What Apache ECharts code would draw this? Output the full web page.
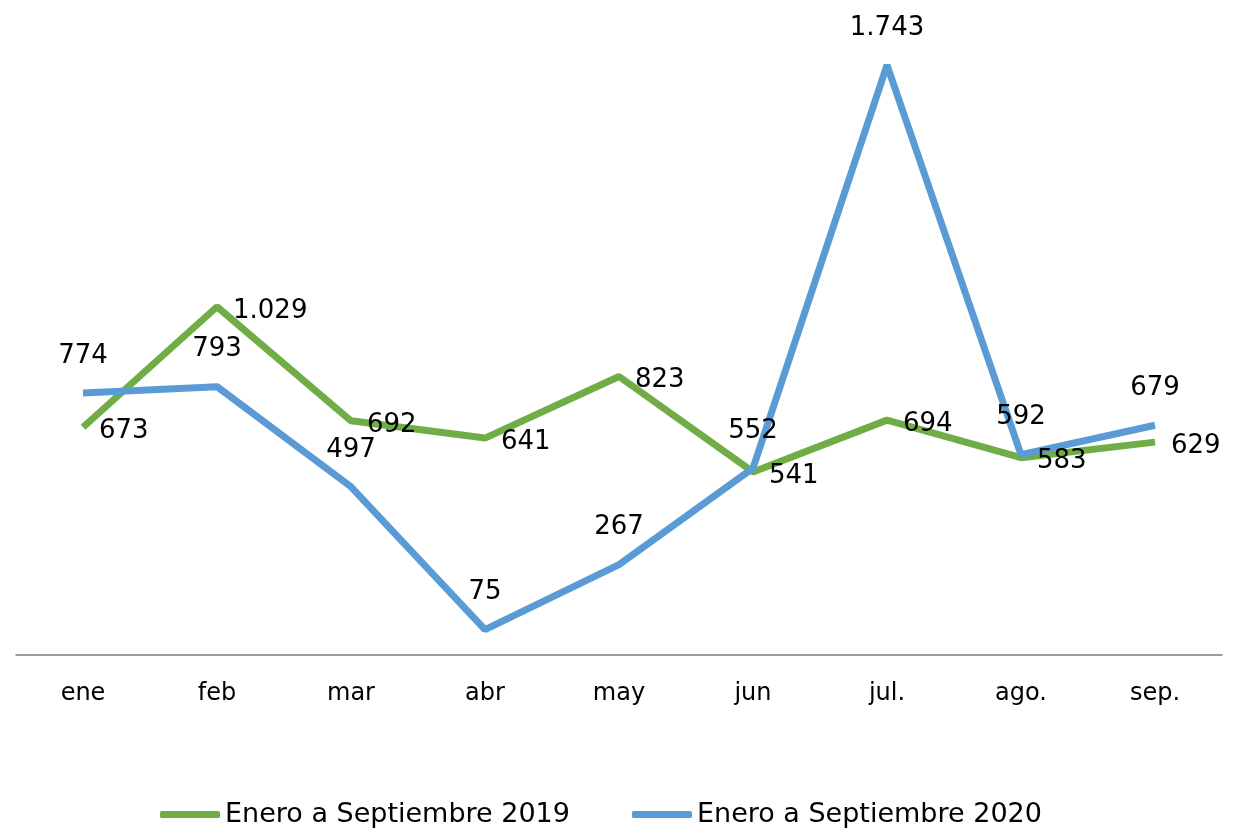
<!DOCTYPE html>
<html>
<head>
<meta charset="utf-8">
<script src="https://cdn.jsdelivr.net/npm/echarts@6/dist/echarts.min.js"></script>
<style>
  html, body { margin: 0; padding: 0; background: #fff; }
  #chart { width: 1233px; height: 833px; }
</style>
</head>
<body>
<div id="chart"></div>
<script>
// datos
let months = ['ene', 'feb', 'mar', 'abr', 'may', 'jun', 'jul.', 'ago.', 'sep.'];
let values2019 = [673, 1029, 692, 641, 823, 541, 694, 583, 629];
let values2020 = [774, 793, 497, 75, 267, 552, 1743, 592, 679];

(function () {
  let myChart = echarts.init(document.getElementById('chart'));

  let font = 'DejaVu Sans';
  // separador de miles con punto
  let fmt = params => {
    return String(params.value).replace(/\B(?=(\d{3})+(?!\d))/g, '.');
  };

  let option = {
    textStyle: { fontFamily: font },
    color: ['#70AD47', '#5B9BD5'],
    animation: false,
    grid: {
      left: 16,
      right: 11,
      top: 12,
      bottom: 178
    },
    legend: {
      bottom: 0,
      left: 155,
      icon: 'roundRect',
      itemWidth: 60,
      itemHeight: 7,
      itemGap: 62,
      textStyle: {
        color: '#000',
        fontSize: 27,
        fontFamily: font
      },
      data: ['Enero a Septiembre 2019', 'Enero a Septiembre 2020']
    },
    xAxis: {
      type: 'category',
      data: months,
      boundaryGap: true,
      axisLine: { lineStyle: { color: '#7f7f7f', width: 1.5 } },
      axisTick: { show: false },
      axisLabel: {
        color: '#000',
        fontSize: 24,
        margin: 27,
        fontFamily: font
      }
    },
    yAxis: {
      type: 'value',
      min: 0,
      max: 1900,
      show: false,
      splitLine: { show: false }
    },
    series: [
      {
        name: 'Enero a Septiembre 2019',
        type: 'line',
        data: values2019,
        symbol: 'circle',
        symbolSize: 0,
        itemStyle: { color: '#70AD47' },
        lineStyle: { width: 7, color: '#70AD47' },
        label: {
          show: true,
          position: 'right',
          distance: 16,
          offset: [0, 4],
          color: '#000',
          fontSize: 26,
          fontFamily: font,
          formatter: fmt
        }
      },
      {
        name: 'Enero a Septiembre 2020',
        type: 'line',
        data: values2020,
        symbol: 'circle',
        symbolSize: 0,
        itemStyle: { color: '#5B9BD5' },
        lineStyle: { width: 7, color: '#5B9BD5' },
        label: {
          show: true,
          position: 'top',
          distance: 24,
          color: '#000',
          fontSize: 26,
          fontFamily: font,
          formatter: fmt
        }
      }
    ]
  };

  myChart.setOption(option);
  window.addEventListener('resize', function () {
    myChart.resize();
  });
})();
</script>
</body>
</html>
